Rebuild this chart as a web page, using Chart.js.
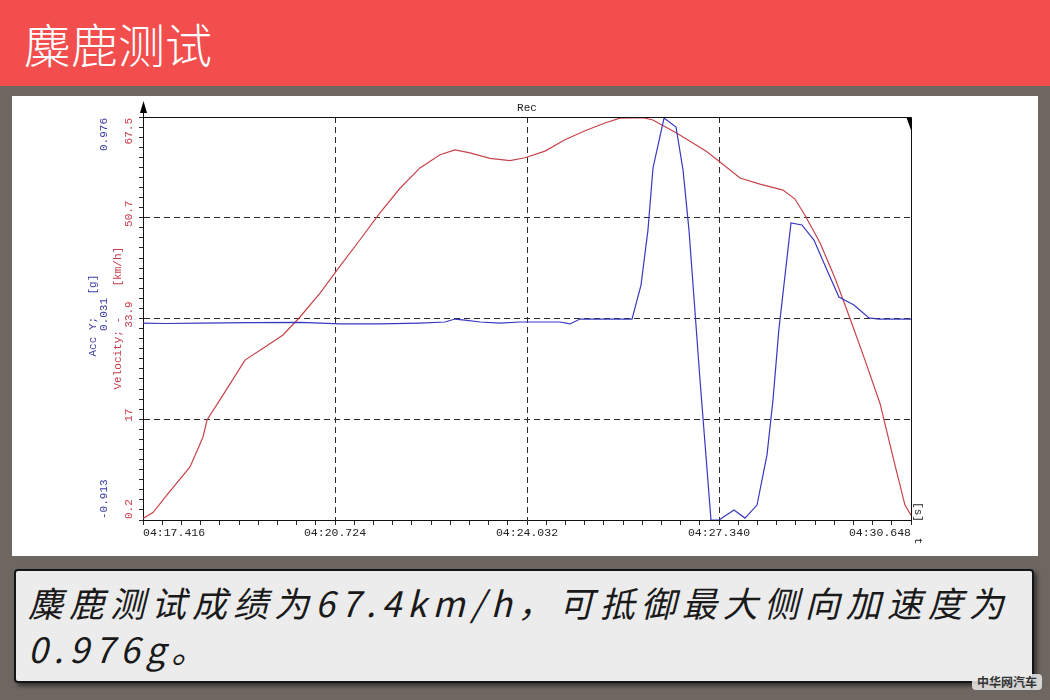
<!DOCTYPE html>
<html>
<head>
<meta charset="utf-8">
<script src="https://cdn.jsdelivr.net/npm/chart.js@4.4.1/dist/chart.umd.min.js"></script>
<style>
  html, body { margin: 0; padding: 0; }
  body { width: 1050px; height: 700px; background: #6d6661; position: relative; overflow: hidden; font-family: "Noto Sans CJK SC", sans-serif; }
  #header { position: absolute; left: 0; top: 0; width: 1050px; height: 86px; background: #f24e4e; }
  #header h1 { margin: 0; position: absolute; left: 24px; top: 14px; font-size: 47px; font-weight: 300; color: #fff; line-height: 58px; }
  #panel { position: absolute; left: 12px; top: 96px; width: 1026px; height: 460px; background: #fff; }
  #caption { position: absolute; left: 14px; top: 569px; width: 1016px; height: 110px; background: #ececec; border: 2px solid #151515; border-radius: 4px; box-shadow: 3px 3px 4px rgba(0,0,0,0.5); }
  #caption p { margin: 0; position: absolute; left: 12px; top: 8px; font-size: 35px; font-style: italic; letter-spacing: 6px; line-height: 46px; color: #1a1a1a; white-space: nowrap; }
  #mark { position: absolute; left: 972px; top: 674px; width: 70px; height: 16px; background: rgba(235,235,235,0.85); border-radius: 4px; font-size: 12px; font-weight: bold; line-height: 16px; text-align: center; color: #333; }
</style>
</head>
<body>
<div id="header"><h1>麋鹿测试</h1></div>
<div id="panel"><canvas id="chart" width="1026" height="460"></canvas></div>
<div id="caption"><p>麋鹿测试成绩为67.4km/h，可抵御最大侧向加速度为<br>0.976g。</p></div>
<div id="mark">中华网汽车</div>
<script>
// 时间轴标签（每 3.308 s 一格）
const timeLabels = ['04:17.416', '04:20.724', '04:24.032', '04:27.340', '04:30.648'];
const timeSpan = 13.232;
// 纵轴刻度
const velTicks = ['0.2', '17', '33.9', '50.7', '67.5'];
const accTicks = ['-0.913', '0.031', '0.976'];
const velMin = 0.2, velMax = 67.5;
const accMin = -0.913, accMax = 0.976;

// 车速 [km/h]
const velTime = [0, 0.172, 0.414, 0.810, 1.034, 1.103, 1.413, 1.757, 2.102, 2.412, 2.705, 3.050, 3.394, 3.739, 4.083, 4.428, 4.772, 5.117, 5.375, 5.634, 5.978, 6.323, 6.581, 6.926, 7.270, 7.615, 7.959, 8.218, 8.614, 8.786, 9.200, 9.717, 9.941, 10.286, 10.630, 11.027, 11.233, 11.405, 11.664, 11.922, 12.180, 12.439, 12.697, 12.955, 13.128, 13.232];
const velValue = [0.45, 1.45, 4.4, 9.05, 14.06, 16.9, 21.6, 26.9, 29.1, 31.1, 34.1, 38.1, 42.6, 47.0, 51.5, 55.6, 59.0, 61.2, 62.0, 61.5, 60.6, 60.2, 60.7, 61.8, 63.7, 65.2, 66.5, 67.3, 67.4, 67.0, 64.8, 61.7, 60.0, 57.3, 56.3, 55.3, 53.8, 51.1, 46.5, 40.6, 33.9, 26.9, 19.7, 9.4, 2.7, 1.0];

// 侧向加速度 [g]
const accTime = [0, 0.379, 0.982, 1.844, 2.705, 3.394, 4.083, 4.772, 5.203, 5.375, 5.548, 5.806, 6.151, 6.495, 6.926, 7.184, 7.357, 7.529, 7.874, 8.425, 8.580, 8.700, 8.787, 8.977, 9.183, 9.304, 9.407, 9.597, 9.786, 9.924, 10.183, 10.372, 10.579, 10.751, 10.854, 10.955, 11.164, 11.353, 11.560, 11.784, 11.990, 12.249, 12.508, 12.680, 13.232];
const accValue = [0.010, 0.008, 0.010, 0.012, 0.013, 0.006, 0.006, 0.010, 0.015, 0.029, 0.024, 0.015, 0.010, 0.015, 0.015, 0.015, 0.006, 0.029, 0.029, 0.029, 0.188, 0.446, 0.737, 0.971, 0.929, 0.728, 0.446, -0.257, -0.913, -0.913, -0.866, -0.904, -0.843, -0.608, -0.351, -0.022, 0.479, 0.470, 0.399, 0.259, 0.132, 0.095, 0.034, 0.029, 0.029];

const blue = '#3838c0', red = '#c8434b';
const blueText = '#3b3ba8', redText = '#c83c4c';
const monoFont = '11px "Liberation Mono", monospace';

// 每个大格分 10 个小刻度
function evenTicks(min, max) {
  const t = [];
  for (let i = 0; i <= 40; i++) t.push({ value: min + (max - min) * i / 40 });
  return t;
}
const majorGrid = ctx => (ctx.index % 10 === 0 && ctx.index !== 0 && ctx.index !== 40) ? '#2a2a2a' : 'rgba(0,0,0,0)';
const align = p => Math.round(p - 0.5) + 0.5;

// 竖排文字（逆时针 90 度）
function vText(ctx, text, x, y, textAlign, color, angle) {
  ctx.save();
  ctx.translate(x, y);
  ctx.rotate(angle === undefined ? -Math.PI / 2 : angle);
  ctx.textAlign = textAlign;
  ctx.textBaseline = 'middle';
  ctx.fillStyle = color;
  ctx.fillText(text, 0, 0);
  ctx.restore();
}

const decorations = {
  id: 'decorations',
  afterDraw(chart) {
    const { ctx, chartArea: a } = chart;
    const yV = chart.scales.y, yA = chart.scales.yA;
    const L = align(a.left), R = align(a.right), T = align(a.top);
    ctx.save();
    ctx.strokeStyle = '#111';
    ctx.lineWidth = 1;
    ctx.beginPath();
    ctx.moveTo(L, T); ctx.lineTo(R, T); ctx.lineTo(R, a.bottom);
    ctx.moveTo(L, T); ctx.lineTo(L, a.top - 14);
    ctx.stroke();
    ctx.fillStyle = '#000';
    // 纵轴箭头
    ctx.beginPath();
    ctx.moveTo(L, a.top - 16); ctx.lineTo(L - 3.5, a.top - 4); ctx.lineTo(L + 3.5, a.top - 4);
    ctx.closePath(); ctx.fill();
    // 右上角标记
    ctx.beginPath();
    ctx.moveTo(R - 5, T); ctx.lineTo(R, T); ctx.lineTo(R, T + 14);
    ctx.closePath(); ctx.fill();

    ctx.font = monoFont;
    ctx.fillStyle = '#222';
    ctx.textAlign = 'center';
    ctx.textBaseline = 'middle';
    ctx.fillText('Rec', (a.left + a.right) / 2, a.top - 9);
    vText(ctx, '[s]', a.right + 7, a.bottom - 8, 'center', '#222', Math.PI / 2);
    vText(ctx, 't', a.right + 7, a.bottom + 21, 'center', '#222', Math.PI / 2);

    // 纵轴刻度文字
    const mid = yV.getPixelForValue((velMin + velMax) / 2);
    const place = (labels, scale, min, max, x, color) => {
      labels.forEach((lab, i) => {
        const v = min + (max - min) * i / (labels.length - 1);
        const p = scale.getPixelForValue(v);
        if (i === 0) vText(ctx, lab, x, p - 1, 'left', color);
        else if (i === labels.length - 1) vText(ctx, lab, x, p + 1, 'right', color);
        else vText(ctx, lab, x, p - 4, 'center', color);
      });
    };
    place(accTicks, yA, accMin, accMax, 92, blueText);
    place(velTicks, yV, velMin, velMax, 117, redText);
    // 轴名
    vText(ctx, 'Acc Y;', 81, mid + 38, 'left', blueText);
    vText(ctx, '[g]', 81, mid - 24, 'left', blueText);
    vText(ctx, 'Velocity; -', 106, mid + 71, 'left', redText);
    vText(ctx, '[km/h]', 106, mid - 32, 'left', redText);
    ctx.restore();
  }
};

new Chart(document.getElementById('chart'), {
  type: 'line',
  data: {
    datasets: [{
      label: 'Acc Y',
      data: accTime.map((t, i) => ({ x: t, y: accValue[i] })),
      yAxisID: 'yA',
      borderColor: blue,
      borderWidth: 1.2,
      pointRadius: 0,
      tension: 0
    }, {
      label: 'Velocity',
      data: velTime.map((t, i) => ({ x: t, y: velValue[i] })),
      yAxisID: 'y',
      borderColor: red,
      borderWidth: 1.2,
      pointRadius: 0,
      tension: 0
    }]
  },
  options: {
    responsive: false,
    animation: false,
    layout: { padding: { top: 21, right: 127, left: 0, bottom: 0 } },
    plugins: { legend: { display: false }, tooltip: { enabled: false }, title: { display: false } },
    scales: {
      x: {
        type: 'linear',
        min: 0,
        max: timeSpan,
        afterBuildTicks: s => { s.ticks = evenTicks(0, timeSpan); },
        afterFit: s => { s.height = 36; },
        ticks: {
          autoSkip: false,
          maxRotation: 0,
          align: 'inner',
          padding: 2,
          color: '#222',
          font: { family: '"Liberation Mono", monospace', size: 11.5, lineHeight: 1 },
          callback: (v, i) => i % 10 === 0 ? timeLabels[i / 10] : ''
        },
        grid: { color: majorGrid, tickColor: '#2a2a2a', tickLength: 5, lineWidth: 1, tickBorderDash: [] },
        border: { display: true, color: '#111', width: 1, dash: [6, 4] }
      },
      y: {
        type: 'linear',
        position: 'left',
        min: velMin,
        max: velMax,
        afterBuildTicks: s => { s.ticks = evenTicks(velMin, velMax); },
        afterFit: s => { s.width = 131; },
        ticks: { display: false },
        grid: { color: majorGrid, tickColor: '#2a2a2a', tickLength: 4, lineWidth: 1, tickBorderDash: [] },
        border: { display: true, color: '#111', width: 1, dash: [6, 4] }
      },
      yA: {
        type: 'linear',
        display: false,
        min: accMin,
        max: accMax
      }
    }
  },
  plugins: [decorations]
});
</script>
</body>
</html>
